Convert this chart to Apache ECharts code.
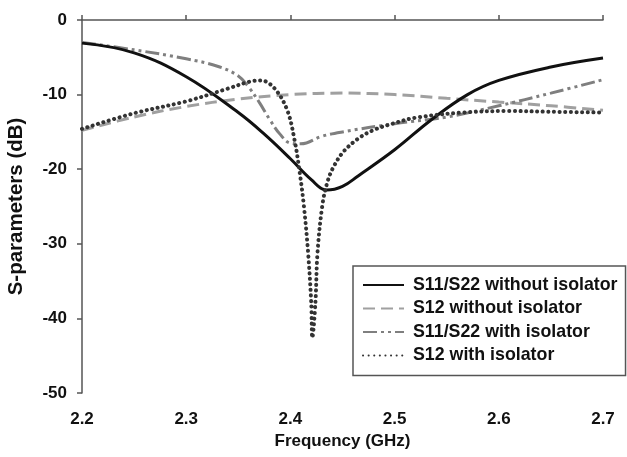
<!DOCTYPE html>
<html lang="en">
<head>
    <meta charset="UTF-8">
    <title>S-parameters</title>
</head>
<body style="margin:0;">
<div style="width: 627px;height: 457px;" id="sChart"></div>
</body>
<script src="https://cdn.jsdelivr.net/npm/echarts@6/dist/echarts.min.js"></script>
<script type="text/javascript">
  // [frequency GHz, dB]
  const s11NoIso = [
    [2.200, -3.1], [2.250, -4.4], [2.300, -7.6], [2.350, -12.4], [2.375, -15.3],
    [2.400, -18.6], [2.420, -21.4], [2.435, -22.8], [2.450, -22.3], [2.465, -20.9],
    [2.500, -17.4], [2.535, -13.4], [2.570, -10.0], [2.600, -8.1], [2.650, -6.3],
    [2.700, -5.1],
  ];

  const s12NoIso = [
    [2.20, -14.8], [2.25, -13.0], [2.30, -11.6], [2.35, -10.6], [2.40, -10.0],
    [2.45, -9.8], [2.50, -10.0], [2.55, -10.5], [2.60, -11.0], [2.65, -11.5],
    [2.70, -12.1],
  ];

  const s11Iso = [
    [2.20, -3.0], [2.25, -4.0], [2.30, -5.2], [2.33, -6.2], [2.35, -7.5],
    [2.36, -9.0], [2.37, -11.0], [2.38, -13.3], [2.39, -15.3], [2.40, -16.5],
    [2.41, -16.6], [2.43, -15.6], [2.45, -15.0], [2.50, -13.9], [2.55, -13.0],
    [2.60, -11.5], [2.65, -9.8], [2.70, -8.0],
  ];

  const s12Iso = [
    [2.200, -14.6], [2.250, -12.5], [2.300, -10.9], [2.340, -9.2], [2.360, -8.3],
    [2.372, -8.1], [2.385, -9.2], [2.397, -12.1], [2.404, -16.1], [2.409, -20.5],
    [2.413, -25.0], [2.417, -31.2], [2.420, -37.9], [2.421, -42.6], [2.424, -37.9],
    [2.426, -31.2], [2.431, -24.5], [2.436, -21.5], [2.441, -19.8], [2.450, -17.8],
    [2.464, -16.0], [2.479, -14.8], [2.498, -13.9], [2.520, -13.1], [2.566, -12.4],
    [2.610, -12.2], [2.650, -12.3], [2.700, -12.4],
  ];

  const seriesNames = [
    'S11/S22 without isolator',
    'S12 without isolator',
    'S11/S22 with isolator',
    'S12 with isolator',
  ];

  const font = 'Liberation Sans, Arial, sans-serif';
  const txt = {fontFamily: font, fontWeight: 'bold', fontSize: 17, color: '#111'};

  const option = {
    animation: false,
    grid: {left: 82, right: 24, top: 20, bottom: 64, outerBoundsMode: 'none', containLabel: false},
    legend: {
      orient: 'vertical',
      left: 353,
      top: 266,
      padding: [10, 8, 11, 9],
      itemWidth: 41,
      itemHeight: 14,
      itemGap: 5.5,
      borderColor: '#555',
      borderWidth: 1.5,
      borderRadius: 0,
      backgroundColor: '#fff',
      itemStyle: {opacity: 0},
      data: seriesNames,
      textStyle: {fontFamily: font, fontWeight: 'bold', fontSize: 17.8, color: '#111', padding: [0, 0, 0, 4]},
    },
    xAxis: {
      type: 'value',
      min: 2.2,
      max: 2.7,
      interval: 0.1,
      name: 'Frequency (GHz)',
      nameLocation: 'middle',
      nameGap: 36,
      nameTextStyle: txt,
      axisLine: {lineStyle: {color: '#555', width: 1.5}},
      axisTick: {inside: true, length: 5, lineStyle: {color: '#555', width: 1.5}},
      splitLine: {show: false},
      axisLabel: Object.assign({margin: 18, formatter: v => v.toFixed(1)}, txt),
    },
    yAxis: {
      type: 'value',
      min: -50,
      max: 0,
      interval: 10,
      name: 'S-parameters (dB)',
      nameLocation: 'middle',
      nameGap: 55,
      nameTextStyle: Object.assign({}, txt, {fontSize: 20.5}),
      axisLine: {show: true, lineStyle: {color: '#555', width: 1.5}},
      axisTick: {show: true, length: 5, lineStyle: {color: '#555', width: 1.5}},
      splitLine: {show: false},
      axisLabel: Object.assign({margin: 15}, txt),
    },
    series: [
      {
        name: seriesNames[0], type: 'line', data: s11NoIso, smooth: 0.4,
        symbol: 'none', z: 4,
        lineStyle: {color: '#111', width: 3},
        itemStyle: {color: '#111'},
      },
      {
        name: seriesNames[1], type: 'line', data: s12NoIso, smooth: 0.4,
        symbol: 'none', z: 2,
        lineStyle: {color: '#a0a0a0', width: 3, type: [12, 6]},
        itemStyle: {color: '#a0a0a0'},
      },
      {
        name: seriesNames[2], type: 'line', data: s11Iso, smooth: 0.4,
        symbol: 'none', z: 3,
        lineStyle: {color: '#7f7f7f', width: 3, type: [14, 4, 3, 4, 3, 4]},
        itemStyle: {color: '#7f7f7f'},
      },
      {
        name: seriesNames[3], type: 'line', data: s12Iso, smooth: 0.35,
        symbol: 'none', z: 5,
        lineStyle: {color: '#333', width: 4, type: [0.1, 5.5], cap: 'round'},
        itemStyle: {color: '#333'},
      },
    ],
  };

  const chart = echarts.init(document.getElementById('sChart'), null, {renderer: 'canvas'});
  chart.setOption(option);
</script>
</html>
